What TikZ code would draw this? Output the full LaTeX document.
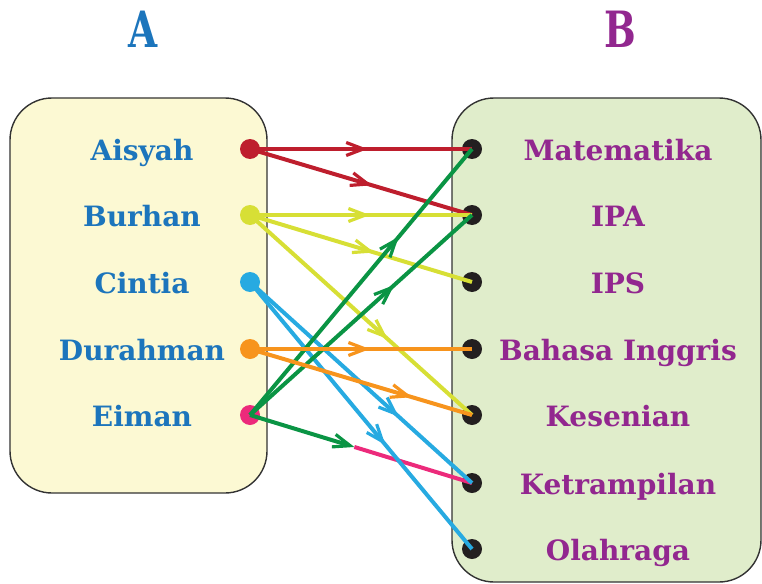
\documentclass[tikz,border=0pt]{standalone}
\usepackage{fontspec}
\setmainfont{DejaVu Serif}
\usetikzlibrary{arrows.meta,decorations.markings}
\definecolor{cred}{HTML}{BE1E2D}
\definecolor{cyel}{HTML}{D7DF35}
\definecolor{ccya}{HTML}{27AAE1}
\definecolor{cora}{HTML}{F7941D}
\definecolor{cpnk}{HTML}{EC2A7B}
\definecolor{cgrn}{HTML}{0A9444}
\definecolor{cblu}{HTML}{1C75BC}
\definecolor{cpur}{HTML}{92278F}
\definecolor{fillA}{HTML}{FCF9D3}
\definecolor{fillB}{HTML}{E0EDCB}
\definecolor{cdot}{HTML}{231F20}
\tikzset{
  setbox/.style={draw=black!80, line width=1.4pt, rounded corners=42pt},
  dot/.style={circle, inner sep=0pt, minimum size=20pt},
  ln/.style={line width=4pt},
  arr/.style={postaction={decorate}, decoration={markings, mark=at position #1 with {\arrow{Straight Barb[length=17pt,width=13pt,line width=3.2pt]}}}},
  lab/.style={font=\fontsize{28}{30}\selectfont\bfseries, anchor=base},
  ttl/.style={font=\fontsize{50}{52}\selectfont\bfseries, anchor=base}
}
\begin{document}
\begin{tikzpicture}[x=1pt,y=-1pt]
\useasboundingbox (0,0) rectangle (762,583);
% sets
\draw[setbox, fill=fillA] (10,98) rectangle (267,493);
\draw[setbox, fill=fillB] (452,98) rectangle (761,582);
% titles
\node[ttl, text=cblu] (tA) at (143,48) {\scalebox{0.75}[1]{A}};
\node[ttl, text=cpur] (tB) at (620,48) {\scalebox{0.75}[1]{B}};
% left labels
\node[lab, text=cblu] (la1) at (142,160) {Aisyah};
\node[lab, text=cblu] (la2) at (142,226) {Burhan};
\node[lab, text=cblu] (la3) at (142,293) {Cintia};
\node[lab, text=cblu] (la4) at (142,360) {Durahman};
\node[lab, text=cblu] (la5) at (142,426) {Eiman};
% right labels
\node[lab, text=cpur] (lb1) at (618,160) {Matematika};
\node[lab, text=cpur] (lb2) at (618,226) {IPA};
\node[lab, text=cpur] (lb3) at (618,293) {IPS};
\node[lab, text=cpur] (lb4) at (618,360) {Bahasa Inggris};
\node[lab, text=cpur] (lb5) at (618,426) {Kesenian};
\node[lab, text=cpur] (lb6) at (618,494) {Ketrampilan};
\node[lab, text=cpur] (lb7) at (618,560) {Olahraga};
% dots
\node[dot, fill=cred] (a1) at (250,149) {};
\node[dot, fill=cyel] (a2) at (250,215) {};
\node[dot, fill=ccya] (a3) at (250,282) {};
\node[dot, fill=cora] (a4) at (250,349) {};
\node[dot, fill=cpnk] (a5) at (250,415) {};
\node[dot, fill=cdot] (b1) at (472,149) {};
\node[dot, fill=cdot] (b2) at (472,215) {};
\node[dot, fill=cdot] (b3) at (472,282) {};
\node[dot, fill=cdot] (b4) at (472,349) {};
\node[dot, fill=cdot] (b5) at (472,415) {};
\node[dot, fill=cdot] (b6) at (472,483) {};
\node[dot, fill=cdot] (b7) at (472,549) {};
% red
\draw[ln, cred, arr=0.53] (a1.center) -- (b1.center);
\draw[ln, cred, arr=0.55] (a1.center) -- (b2.center);
% yellow
\draw[ln, cyel, arr=0.54] (a2.center) -- (b2.center);
\draw[ln, cyel, arr=0.56] (a2.center) -- (b3.center);
\draw[ln, cyel, arr=0.62] (a2.center) -- (b5.center);
% pink part of Eiman -> Ketrampilan
\path (a5.center) -- (b6.center) coordinate[pos=0.47] (em);
\draw[ln, cpnk] (em) -- (b6.center);
% cyan
\draw[ln, ccya, arr=0.67] (a3.center) -- (b6.center);
\draw[ln, ccya, arr=0.61] (a3.center) -- (b7.center);
% green
\draw[ln, cgrn, -{Straight Barb[length=17pt,width=13pt,line width=3.2pt]}] (a5.center) -- (em);
\draw[ln, cgrn, arr=0.67] (a5.center) -- (b1.center);
\draw[ln, cgrn, arr=0.65] (a5.center) -- (b2.center);
% orange
\draw[ln, cora, arr=0.54] (a4.center) -- (b4.center);
\draw[ln, cora, arr=0.73] (a4.center) -- (b5.center);
\end{tikzpicture}
\end{document}
